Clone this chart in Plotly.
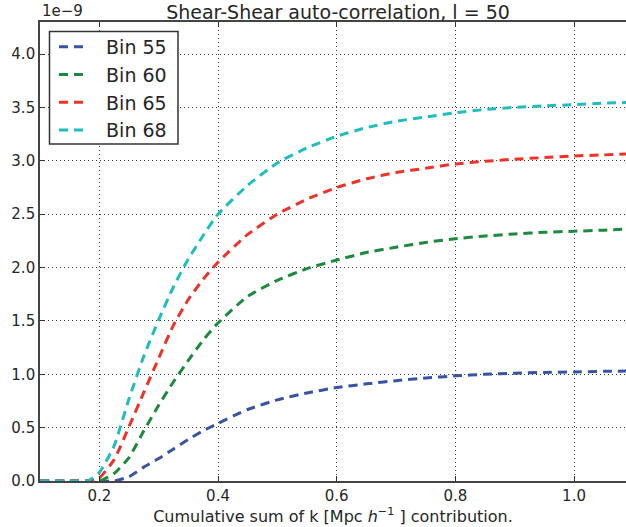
import numpy as np
import plotly.graph_objects as go

# Cumulative k upper limit [Mpc/h]
k_cum = [0.10, 0.15, 0.18, 0.20, 0.225, 0.25, 0.275, 0.30, 0.325, 0.35, 0.375,
         0.40, 0.45, 0.50, 0.55, 0.60, 0.65, 0.70, 0.75, 0.80, 0.85, 0.90,
         0.95, 1.00, 1.05, 1.09]

# Cumulative C_l contribution, in units of 1e-9
bin55 = [0, 0, 0, 0, 0.0, 0.04, 0.13, 0.21, 0.30, 0.39, 0.47,
         0.54, 0.67, 0.76, 0.825, 0.875, 0.91, 0.94, 0.965, 0.985, 1.0, 1.01,
         1.017, 1.022, 1.027, 1.03]
bin60 = [0, 0, 0, 0.0, 0.07, 0.22, 0.47, 0.71, 0.93, 1.13, 1.32,
         1.48, 1.73, 1.88, 1.99, 2.07, 2.14, 2.19, 2.235, 2.27, 2.295, 2.315,
         2.33, 2.34, 2.35, 2.36]
bin65 = [0, 0, 0, 0.03, 0.20, 0.51, 0.83, 1.15, 1.46, 1.70, 1.89,
         2.05, 2.31, 2.50, 2.64, 2.75, 2.83, 2.89, 2.93, 2.97, 2.995, 3.015,
         3.03, 3.045, 3.055, 3.065]
bin68 = [0, 0, 0, 0.08, 0.33, 0.77, 1.17, 1.51, 1.82, 2.08, 2.30,
         2.50, 2.77, 2.98, 3.12, 3.23, 3.31, 3.37, 3.41, 3.45, 3.48, 3.50,
         3.515, 3.525, 3.54, 3.545]

series_names = ["Bin 55", "Bin 60", "Bin 65", "Bin 68"]
series_vals = [bin55, bin60, bin65, bin68]
colors = ["#3953A4", "#1B8A3E", "#EE3229", "#1FBDBD"]

SCALE = 1e-9
y_ticks = [0.0, 0.5, 1.0, 1.5, 2.0, 2.5, 3.0, 3.5, 4.0]
x_ticks = [0.2, 0.4, 0.6, 0.8, 1.0]

FONT = "DejaVu Sans"
TXT = "#262626"

# plot-area geometry in pixels (used to place the legend frame)
W, H = 626, 527
ML, MR, MT, MB = 40, 0, 22, 46
PW, PH = W - ML - MR, H - MT - MB


def px_x(p):
    return (p - ML) / PW


def px_y(p):
    return (H - MB - p) / PH


fig = go.Figure()
for name, vals, col in zip(series_names, series_vals, colors):
    fig.add_trace(go.Scatter(
        x=k_cum, y=np.array(vals) * SCALE,
        name="\u00a0\u00a0" + name, mode="lines",
        legendgroup=name,
        line=dict(color=col, width=3, dash="9px,6px", shape="spline", smoothing=0.5),
    ))

grid_dash = "1px,3px"
fig.update_layout(
    width=W, height=H,
    margin=dict(l=ML, r=MR, t=MT, b=MB),
    paper_bgcolor="white", plot_bgcolor="white",
    font=dict(family=FONT, color=TXT, size=15),
    title=dict(text="Shear-Shear auto-correlation, l = 50", x=338 / W,
               xanchor="center", y=1 - 12 / H, yanchor="middle",
               font=dict(size=19, family=FONT, color=TXT)),
    showlegend=True,
    legend=dict(x=px_x(54), y=px_y(28), xanchor="left", yanchor="top",
                bgcolor="rgba(0,0,0,0)", borderwidth=0,
                font=dict(size=19, family=FONT, color=TXT),
                itemwidth=30, tracegroupgap=0, traceorder="normal"),
    xaxis=dict(range=[0.1, 1.0876], tickvals=x_ticks,
               ticktext=[f"{v:.1f}" for v in x_ticks],
               ticks="inside", ticklen=5, tickcolor="#333333", tickwidth=1,
               showline=True, linecolor="#444444", linewidth=1.6, mirror="ticks",
               showgrid=True, gridcolor="#333333", gridwidth=1, griddash=grid_dash,
               zeroline=False,
               tickfont=dict(size=15, family=FONT, color=TXT),
               title=dict(text="Cumulative sum of k [Mpc <i>h</i><sup>−1</sup> ] contribution.",
                          font=dict(size=16, family=FONT, color=TXT), standoff=5)),
    yaxis=dict(range=[0, 4.3 * SCALE], tickvals=[v * SCALE for v in y_ticks],
               ticktext=[f"{v:.1f}" for v in y_ticks],
               ticks="inside", ticklen=5, tickcolor="#333333", tickwidth=1,
               showline=True, linecolor="#444444", linewidth=1.6, mirror=False,
               showgrid=True, gridcolor="#333333", gridwidth=1, griddash=grid_dash,
               zeroline=False,
               tickfont=dict(size=15, family=FONT, color=TXT)),
)

# legend frame
fig.add_shape(type="rect", xref="paper", yref="paper",
              x0=px_x(49.5), x1=px_x(178), y0=px_y(144), y1=px_y(31.5),
              fillcolor="white", line=dict(color="#333333", width=1.5), layer="above")

fig.add_annotation(text="1e−9", xref="paper", yref="paper", x=0, y=1,
                   xanchor="left", yanchor="bottom", showarrow=False,
                   font=dict(size=15, family=FONT, color=TXT))

fig.write_html("out.html")
